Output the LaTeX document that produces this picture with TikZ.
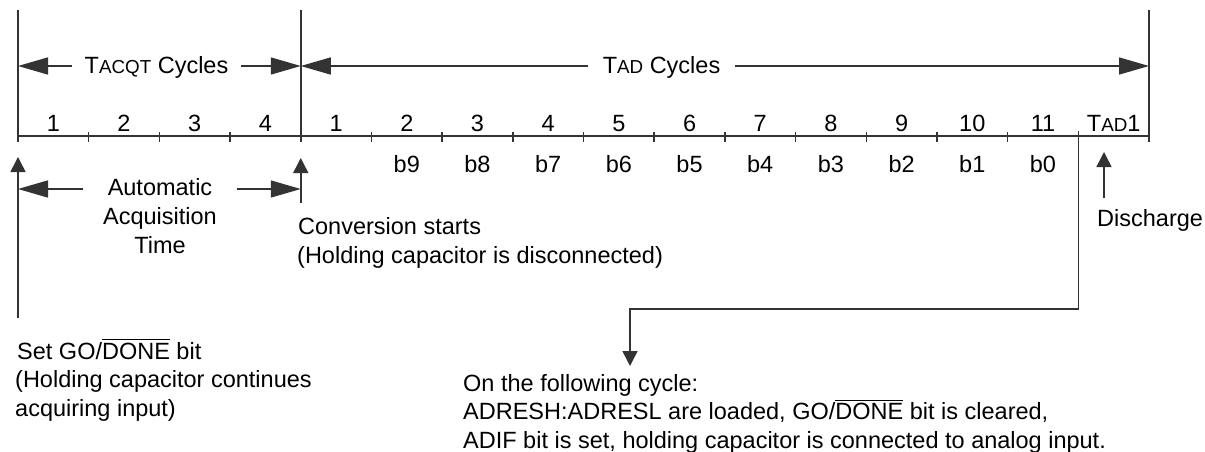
\documentclass[tikz,border=0pt]{standalone}
\usepackage{fontspec}
\setmainfont{Liberation Sans}
\usetikzlibrary{arrows.meta}

% reduced capitals used in T_ACQT and T_AD
\newcommand{\lowcap}[1]{{\fontsize{18.8pt}{18.8pt}\selectfont #1}}
% overbar for active-low signal names
\newcommand{\ovbar}[1]{\leavevmode\vbox{\hrule height 0.9pt\kern 2.4pt\hbox{#1}}}

\begin{document}
\begin{tikzpicture}[x=1pt,y=-1pt,
  lbl/.style={font=\fontsize{23.5pt}{29pt}\selectfont, inner sep=0pt, text=black},
  ln/.style={draw=black!80, line width=1.5pt},
  bigtip/.style={-{Triangle[length=30pt,width=17pt]}},
  smalltip/.style={-{Triangle[length=15pt,width=15pt]}}]

\fill[white] (0,0) rectangle (1205,452);
\useasboundingbox (0,0) rectangle (1205,452);

% cycle boundaries on the time axis
\def\cw{70.6875}
\foreach \k in {0,...,16} {
  \coordinate (t\k) at ({18+\cw*\k},136);
}

% time axis, boundary lines and ticks
\draw[ln] (t0) -- (t16);
\foreach \k in {0,4,16} {
  \pgfmathsetmacro\xx{18+\cw*\k}
  \draw[ln] (\xx,10) -- (\xx,142);
}
\foreach \k in {1,2,3,5,6,...,14} {
  \pgfmathsetmacro\xx{18+\cw*\k}
  \draw[ln] (\xx,132) -- (\xx,142);
}

% cycle numbers
\foreach \n [count=\k] in {1,2,3,4,1,2,3,4,5,6,7,8,9,10,11} {
  \pgfmathsetmacro\xx{18+\cw*(\k-0.5)}
  \node[lbl, anchor=base] (num\k) at (\xx,131.5) {\n};
}
\node[lbl, anchor=base] (num16) at ({18+\cw*15.5},131.5) {T\lowcap{AD}1};

% result bits
\foreach \b [count=\i] in {9,8,7,6,5,4,3,2,1,0} {
  \pgfmathsetmacro\xx{18+\cw*(\i+4.5)}
  \node[lbl, anchor=base] (bit\b) at (\xx,172) {b\b};
}

% span labels with their double arrows
\coordinate (aL) at (18,66);
\coordinate (aR) at ({18+\cw*4},66);
\coordinate (dR) at ({18+\cw*16},66);
\node[lbl, anchor=base, inner xsep=12pt] (acq) at (156.5,74) {T\lowcap{ACQT} Cycles};
\node[lbl, anchor=base, inner xsep=15pt] (tad) at (661.5,74) {T\lowcap{AD} Cycles};
\draw[ln, bigtip] (acq.west |- aL) -- (aL);
\draw[ln, bigtip] (acq.east |- aR) -- (aR);
\draw[ln, bigtip] (tad.west |- aR) -- (aR);
\draw[ln, bigtip] (tad.east |- dR) -- (dR);

% automatic acquisition time
\coordinate (mL) at (18,189);
\coordinate (mR) at ({18+\cw*4},189);
\node[lbl, anchor=base, inner xsep=25pt] (auto1) at (160,195) {Automatic};
\node[lbl, anchor=base] (auto2) at (160,224) {Acquisition};
\node[lbl, anchor=base] (auto3) at (160,253) {Time};
\draw[ln, bigtip] (auto1.west |- mL) -- (mL);
\draw[ln, bigtip] (auto1.east |- mR) -- (mR);

% start of acquisition
\coordinate (goTail) at (18,318);
\coordinate (goTip) at (18,157);
\draw[ln, smalltip] (goTail) -- (goTip);
\node[lbl, anchor=base west] (go1) at (17,359) {Set GO/\ovbar{DONE} bit};
\node[lbl, anchor=base west] (go2) at (15,387.5) {(Holding capacitor continues};
\node[lbl, anchor=base west] (go3) at (15,416) {acquiring input)};

% start of conversion
\coordinate (cvTail) at ({18+\cw*4},203);
\coordinate (cvTip) at ({18+\cw*4},158);
\draw[ln, smalltip] (cvTail) -- (cvTip);
\node[lbl, anchor=base west] (cv1) at (298,234) {Conversion starts};
\node[lbl, anchor=base west] (cv2) at (297,263) {(Holding capacitor is disconnected)};

% discharge
\coordinate (dsTail) at (1104,198);
\coordinate (dsTip) at (1104,152);
\draw[ln, smalltip] (dsTail) -- (dsTip);
\node[lbl, anchor=base west] (ds) at (1097,226) {Discharge};

% end of conversion
\coordinate (eoc) at ({18+\cw*15},131);
\coordinate (eocTurn) at (630,309);
\coordinate (eocTip) at (630,366);
\draw[ln, smalltip] (eoc) |- (eocTurn) -- (eocTip);
\node[lbl, anchor=base west] (fl1) at (463,391) {On the following cycle:};
\node[lbl, anchor=base west] (fl2) at (463,419.5) {ADRESH:ADRESL are loaded, GO/\ovbar{DONE} bit is cleared,};
\node[lbl, anchor=base west] (fl3) at (463,448) {ADIF bit is set, holding capacitor is connected to analog input.};

\end{tikzpicture}
\end{document}
